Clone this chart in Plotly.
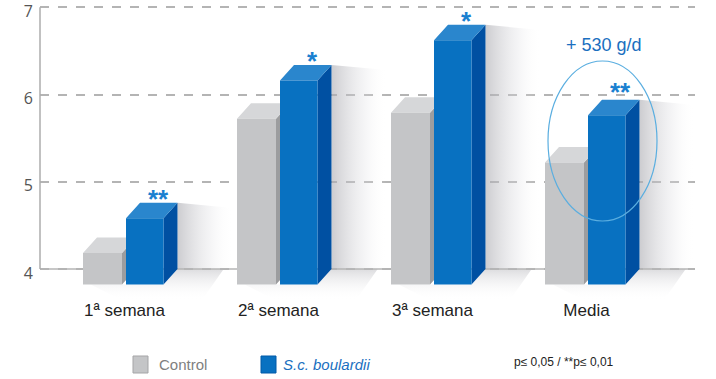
import plotly.graph_objects as go

# ---------------- data ----------------
categories = ["1ª semana", "2ª semana", "3ª semana", "Media"]
control = [4.36, 5.90, 5.97, 5.40]
boulardii = [4.76, 6.34, 6.80, 5.94]
significance = ["**", "*", "*", "**"]
y_ticks = [4, 5, 6, 7]
series_names = ["Control", "S.c. boulardii"]
p_note = "p≤ 0,05 / **p≤ 0,01"
gain_label = "+ 530 g/d"

# ---------------- geometry helpers (pixel -> data) ----------------
PXX = 154.0      # px per category unit
PXY = 87.23      # px per y unit
X0PX = 124.5     # px of category 0
Y4PX = 269.0     # px of value 4 (baseline)
BASE = 4
PL, PR, PT, PB = 40, 695, 0, 302   # plot area in px


def xd(px):
    return (px - X0PX) / PXX


def yd(py):
    return BASE + (Y4PX - py) / PXY


def xp(px):
    return (px - PL) / (PR - PL)


def yp(py):
    return (PB - py) / (PB - PT)


DX = 14 / PXX
DY = 15.5 / PXY
BLUE_OFF, BLUE_W = 1.5 / PXX, 37.5 / PXX
GRAY_OFF, GRAY_W = -41.5 / PXX, 39 / PXX

GRAY = dict(front="#c4c5c7", top="#d6d7d9", side="#9c9d9f")
BLUE = dict(front="#0871c1", top="#2a86cd", side="#0050a2")


def box(i, v, off, w):
    x0 = i + off
    x1 = x0 + w
    yb = BASE - DY
    yt = v - DY
    front = [(x0, yb), (x1, yb), (x1, yt), (x0, yt)]
    top = [(x0, yt), (x1, yt), (x1 + DX, v), (x0 + DX, v)]
    side = [(x1, yb), (x1 + DX, BASE), (x1 + DX, v), (x1, yt)]
    return dict(front=front, top=top, side=side)


def poly_xy(polys):
    xs, ys = [], []
    for p in polys:
        for (a, b) in p + [p[0]]:
            xs.append(a)
            ys.append(b)
        xs.append(None)
        ys.append(None)
    return xs, ys


fig = go.Figure()
xr = [xd(PL), xd(PR)]
yr = [yd(PB), yd(PT)]

# shadows
for i, v in enumerate(boulardii):
    bx = i + BLUE_OFF + BLUE_W + DX
    fr = i + BLUE_OFF + BLUE_W
    gx = i + GRAY_OFF
    wall = [(bx, v), (bx + 0.36, v - 0.06), (bx + 0.36, BASE), (bx, BASE)]
    xs, ys = poly_xy([wall])
    fig.add_trace(go.Scatter(
        x=xs, y=ys, mode="lines", fill="toself", line=dict(width=0),
        fillgradient=dict(type="horizontal",
                          colorscale=[[0, "rgba(170,170,176,0.6)"], [0.6, "rgba(222,222,226,0.3)"],
                                      [1, "rgba(255,255,255,0)"]]),
        hoverinfo="skip", showlegend=False))
    floor = [(gx + 0.05, BASE - DY), (fr, BASE - DY), (bx, BASE), (bx + 0.3, BASE),
             (fr + 0.25, yd(300)), (gx + 0.25, yd(300))]
    xs, ys = poly_xy([floor])
    fig.add_trace(go.Scatter(
        x=xs, y=ys, mode="lines", fill="toself", line=dict(width=0),
        fillgradient=dict(type="vertical",
                          colorscale=[[0, "rgba(255,255,255,0)"], [1, "rgba(185,185,190,0.5)"]]),
        hoverinfo="skip", showlegend=False))

# baseline (x axis at value 4)
fig.add_trace(go.Scatter(x=xr, y=[BASE, BASE], mode="lines",
                         line=dict(color="#b4b4b4", width=1.5),
                         hoverinfo="skip", showlegend=False))

# bars
for vals, off, w, col, name in [(control, GRAY_OFF, GRAY_W, GRAY, series_names[0]),
                                (boulardii, BLUE_OFF, BLUE_W, BLUE, series_names[1])]:
    boxes = [box(i, v, off, w) for i, v in enumerate(vals)]
    for face in ["side", "top", "front"]:
        xs, ys = poly_xy([b[face] for b in boxes])
        fig.add_trace(go.Scatter(
            x=xs, y=ys, mode="lines", fill="toself", fillcolor=col[face],
            line=dict(width=0), name=name, hoverinfo="skip", showlegend=False))

annotations = []
# significance stars
for i, v in enumerate(boulardii):
    annotations.append(dict(
        x=i + BLUE_OFF + 32 / PXX, y=v, xref="x", yref="y", text="<b>" + significance[i] + "</b>",
        showarrow=False, yanchor="middle", yshift=4 if i != 3 else 8,
        font=dict(family="Liberation Sans, Arial", size=26, color="#1a80d0")))

# gain label
annotations.append(dict(x=xd(604), y=yd(44.5), xref="x", yref="y", text=gain_label,
                        showarrow=False, yanchor="middle",
                        font=dict(family="Liberation Sans, Arial", size=18, color="#1a6fc0")))

# legend texts (paper coordinates, below the plot area)
annotations.append(dict(x=xp(157), y=yp(364), xref="paper", yref="paper", text=series_names[0],
                        showarrow=False, xanchor="left", yanchor="middle",
                        font=dict(family="Liberation Sans, Arial", size=15, color="#808080")))
annotations.append(dict(x=xp(281), y=yp(364), xref="paper", yref="paper",
                        text="<i>" + series_names[1] + "</i>",
                        showarrow=False, xanchor="left", yanchor="middle",
                        font=dict(family="Liberation Sans, Arial", size=15, color="#1a6fc0")))
annotations.append(dict(x=xp(512), y=yp(362), xref="paper", yref="paper", text=p_note,
                        showarrow=False, xanchor="left", yanchor="middle",
                        font=dict(family="Liberation Sans, Arial", size=12, color="#222222")))

shapes = [
    # y axis line
    dict(type="line", xref="paper", yref="y", x0=0, x1=0, y0=BASE, y1=max(y_ticks),
         line=dict(color="#adadad", width=1.5)),
    # ellipse around Media
    dict(type="circle", xref="x", yref="y", x0=xd(548), x1=xd(657), y0=yd(221), y1=yd(61),
         line=dict(color="#5aaee0", width=1.2), layer="above"),
    # legend squares
    dict(type="rect", xref="paper", yref="paper", x0=xp(133), x1=xp(148), y0=yp(373), y1=yp(356),
         fillcolor=GRAY["front"], line=dict(color="#a5a5a7", width=1)),
    dict(type="rect", xref="paper", yref="paper", x0=xp(261), x1=xp(276), y0=yp(373), y1=yp(356),
         fillcolor=BLUE["front"], line=dict(color="#005aa8", width=1)),
]

fig.update_layout(
    width=716, height=379,
    margin=dict(l=PL, r=716 - PR, t=PT, b=379 - PB),
    plot_bgcolor="white", paper_bgcolor="white",
    showlegend=False,
    annotations=annotations,
    shapes=shapes,
    xaxis=dict(range=xr, tickvals=list(range(len(categories))), ticktext=categories,
               showgrid=False, zeroline=False, showline=False, ticks="",
               tickfont=dict(family="Liberation Sans, Arial", size=17, color="#222222"),
               ticklabelstandoff=-4, fixedrange=True, automargin=False),
    yaxis=dict(range=yr, tickvals=y_ticks, showgrid=True, griddash="dash",
               gridcolor="#b4b4b4", gridwidth=1.5, zeroline=False, showline=False,
               ticks="", ticklabelstandoff=6, ticklabeloverflow="allow", ticklabelshift=4,
               tickfont=dict(family="Open Sans", size=16, color="#555555"), fixedrange=True,
               automargin=False),
)

fig.write_html("out.html", config={"displayModeBar": False},
               post_script="document.body.style.margin='0';")
